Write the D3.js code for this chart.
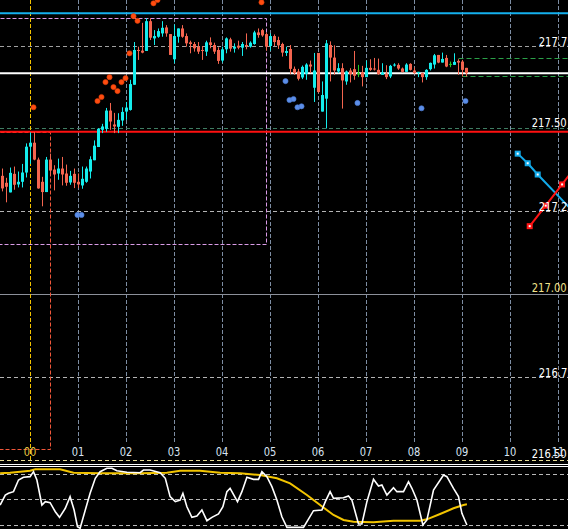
<!DOCTYPE html>
<html><head><meta charset="utf-8">
<script src="https://cdn.jsdelivr.net/npm/d3@7"></script>
<style>html,body{margin:0;padding:0;background:#000;overflow:hidden}svg{display:block}</style>
</head><body><svg id="c" width="568" height="529"></svg>
<script>
// ---- DATA ----
const candleOpen = [217.358,217.337,217.308,217.364,217.332,217.340,217.368,217.446,217.458,217.407,217.340,217.309,217.407,217.377,217.365,217.380,217.365,217.338,217.364,217.340,217.329,217.340,217.371,217.405,217.445,217.497,217.500,217.555,217.513,217.506,217.525,217.552,217.557,217.633,217.738,217.736,217.735,217.825,217.773,217.778,217.788,217.806,217.786,217.710,217.778,217.803,217.780,217.761,217.756,217.748,217.738,217.733,217.761,217.753,217.738,217.706,217.740,217.770,217.742,217.751,217.745,217.753,217.748,217.756,217.791,217.798,217.786,217.750,217.780,217.768,217.756,217.729,217.741,217.681,217.673,217.655,217.666,217.694,217.624,217.729,217.552,217.591,217.753,217.715,217.673,217.683,217.643,217.676,217.680,217.668,217.671,217.656,217.684,217.682,217.678,217.663,217.667,217.658,217.692,217.693,217.682,217.672,217.696,217.676,217.668,217.668,217.656,217.680,217.694,217.723,217.700,217.714,217.696,217.693,217.705,217.703,217.684];
const candleHigh = [217.380,217.352,217.383,217.386,217.371,217.394,217.456,217.489,217.490,217.413,217.355,217.415,217.425,217.390,217.410,217.415,217.392,217.373,217.380,217.365,217.386,217.386,217.417,217.465,217.502,217.515,217.563,217.578,217.548,217.547,217.565,217.581,217.648,217.762,217.748,217.820,217.834,217.834,217.798,217.803,217.825,217.813,217.786,217.815,217.803,217.813,217.788,217.766,217.762,217.762,217.750,217.766,217.776,217.760,217.746,217.748,217.776,217.775,217.758,217.766,217.762,217.788,217.764,217.796,217.803,217.802,217.791,217.788,217.785,217.778,217.760,217.748,217.753,217.688,217.681,217.691,217.698,217.706,217.729,217.729,217.643,217.768,217.764,217.752,217.698,217.698,217.676,217.683,217.735,217.693,217.690,217.706,217.710,217.714,217.712,217.698,217.692,217.693,217.698,217.698,217.685,217.698,217.698,217.685,217.672,217.670,217.680,217.700,217.726,217.723,217.730,217.723,217.703,217.728,217.710,217.708,217.684];
const candleLow = [217.311,217.278,217.308,217.316,217.323,217.323,217.353,217.394,217.405,217.319,217.266,217.309,217.358,217.314,217.346,217.329,217.328,217.331,217.321,217.321,217.319,217.337,217.350,217.405,217.445,217.487,217.491,217.497,217.487,217.487,217.509,217.527,217.555,217.633,217.708,217.728,217.735,217.768,217.753,217.775,217.778,217.778,217.723,217.698,217.760,217.775,217.748,217.728,217.733,217.726,217.708,217.720,217.743,217.726,217.696,217.700,217.728,217.733,217.730,217.740,217.720,217.740,217.745,217.754,217.775,217.778,217.736,217.736,217.750,217.741,217.718,217.720,217.665,217.663,217.646,217.650,217.648,217.668,217.581,217.608,217.552,217.501,217.643,217.663,217.668,217.561,217.633,217.640,217.648,217.656,217.628,217.656,217.675,217.676,217.663,217.663,217.650,217.653,217.688,217.678,217.670,217.672,217.676,217.666,217.656,217.640,217.648,217.676,217.682,217.698,217.700,217.686,217.686,217.693,217.663,217.658,217.658];
const candleClose = [217.320,217.325,217.367,217.331,217.340,217.368,217.446,217.458,217.407,217.320,217.309,217.407,217.374,217.362,217.380,217.362,217.337,217.358,217.337,217.332,217.349,217.380,217.408,217.449,217.500,217.507,217.555,217.522,217.507,217.527,217.551,217.564,217.635,217.738,217.735,217.730,217.825,217.775,217.780,217.795,217.805,217.788,217.723,217.780,217.803,217.778,217.758,217.756,217.743,217.733,217.735,217.761,217.753,217.733,217.705,217.740,217.773,217.742,217.748,217.745,217.756,217.750,217.760,217.791,217.783,217.782,217.748,217.780,217.762,217.752,217.730,217.735,217.681,217.668,217.651,217.687,217.694,217.688,217.676,217.611,217.602,217.758,217.715,217.676,217.683,217.646,217.673,217.665,217.660,217.668,217.656,217.684,217.678,217.679,217.665,217.670,217.656,217.690,217.694,217.682,217.672,217.694,217.678,217.668,217.672,217.656,217.678,217.699,217.722,217.700,217.711,217.688,217.696,217.702,217.700,217.678,217.668];

// SAR-style dots: [candle index, price]
const sarUpper = [[8,217.565],[24,217.584],[25,217.596],[26,217.641],[27,217.656],[28,217.626],[29,217.614],[30,217.641],[31,217.653],[32,217.728],[33,217.840],[34,217.826],[38,217.879],[39,217.889],[65,217.882]];
const sarLower = [[19,217.240],[20,217.240],[71,217.644],[72,217.587],[73,217.590],[74,217.565],[75,217.568],[89,217.578],[105,217.562],[116,217.584]];

// oscillator (white) and its signal (yellow)
const oscIdx = [-0.6,0.7,1.5,2.75,4,5.25,6.9,7.75,8.6,9.85,10.7,11.9,13.2,14.25,15.7,16.9,17.9,18.75,19.4,20.7,21.9,23.2,24.4,26.1,27.35,28.6,31.1,34.4,35.25,36.9,39.4,40.7,41.9,43.2,44.4,45.1,46.1,47.35,48.6,49.85,51.1,52.35,54,55.1,56.1,56.9,58.75,59.85,61.1,62.75,64,64.85,66.1,67.35,68.6,69.85,71.1,75.25,77.75,79.85,80.7,81.9,82.75,85.25,86.5,87.35,89,89.85,91.1,92.75,94,94.85,96.1,97.75,98.6,100.25,101.5,102.35,103.6,105.1,106.1,107.75,110.25,111.1,112.75,114,114.85,116.1];
const oscVal = [44.0,55.6,57.6,59.5,73.0,76.2,76.9,82.7,73.0,44.0,47.9,46.7,36.2,29.7,40.2,53.7,38.2,18.8,17.0,38.2,57.6,75.0,82.7,86.6,86.6,83.8,82.0,81.5,84.6,84.6,81.5,75.0,53.7,47.9,49.8,57.6,42.0,29.7,31.3,38.2,25.8,29.7,33.6,42.0,59.5,63.4,47.9,59.5,76.2,73.8,73.8,82.7,76.9,65.3,49.8,30.4,18.1,18.1,37.4,38.2,47.9,59.5,51.8,52.5,54.5,49.8,22.0,22.0,47.9,73.8,66.1,67.2,55.6,64.1,59.5,59.5,71.1,63.4,49.8,20.8,26.6,61.4,78.8,76.9,63.4,53.7,34.4,20.8];
const sigIdx = [-0.6,1.9,6.9,8.2,14.4,17.75,24.4,34.4,41.1,44.4,49.4,54.4,59.4,64.4,68.6,71.9,76.1,79.4,82.75,85.25,87.75,92.75,97.75,104.4,106.1,109.4,112.75,115.25,116.1];
const sigVal = [80.8,81.5,83.8,85.5,85.5,81.5,80.8,80.8,81.5,83.8,83.8,81.5,80.8,78.8,75.0,69.2,55.6,44.0,32.4,26.6,24.6,23.9,25.8,25.8,27.4,33.6,40.2,44.0,44.8];
const oscLevels = [80, 50, 20];

// projection lines in the future area: [candle index, price]
const blueProj = [[128.8,217.425],[131.3,217.396],[133.8,217.362],[143.8,217.236]];
const redProj = [[131.8,217.206],[135.8,217.268],[139.9,217.332],[143.9,217.396]];

// horizontal levels
const cyanLevel = 217.849;
const whiteLevel = 217.668;
const redLevel = 217.491;
const greenLevels = [[114,217.713],[115,217.657]];
const pinkBox = {i0:-2, i1:66, pTop:217.834, pBot:217.150};
const redBox = {i0:-2, i1:12, pTop:217.488, pBot:216.533};

const hourLabels = ["00","01","02","03","04","05","06","07","08","09","10","11"];
const hourStart = 7;
const priceTicks = [217.75,217.50,217.25,217.00,216.75,216.50];
const priceTickLabels = ["217.75","217.50","217.25","217.00","216.75","216.50"];

// ---- DRAW ----
const svg = d3.select("#c");
const W = 568, H = 529;
svg.append("rect").attr("width",W).attr("height",H).attr("fill","#000");

const x = d3.scaleLinear().domain([0,1]).range([2.5,6.5]);
const y = d3.scaleLinear().domain([217.75,216.50]).range([46,460]);
const yo = d3.scaleLinear().domain([20,80]).range([525.7,474]);
const crisp = v => Math.round(v) + 0.5;

// vertical grid
hourLabels.forEach((h,k)=>{
  const xi = crisp(x(hourStart+12*k) - 0.5);
  if (k===0) return;
  svg.append("line").attr("x1",xi).attr("x2",xi).attr("y1",0).attr("y2",444)
    .attr("stroke","#7d8da3").attr("stroke-width",1).attr("stroke-dasharray","4,2");
});

// horizontal grid
const gridStyle = {
  "217.75":{c:"#a0a0a0",d:"4,3"},
  "217.5":{c:"#3f7d62",d:"4,3"},
  "217.25":{c:"#b4b4b4",d:"4,3"},
  "217":{c:"#8c909a",d:null},
  "216.75":{c:"#b4b4b4",d:"4,3"},
  "216.5":{c:"#e6dc96",d:"4,3"}
};
priceTicks.forEach(p=>{
  const s = gridStyle[String(p)];
  const ln = svg.append("line").attr("x1",0).attr("x2",W)
    .attr("y1",crisp(y(p)-0.5)).attr("y2",crisp(y(p)-0.5))
    .attr("stroke",s.c).attr("stroke-width",1);
  if (s.d) ln.attr("stroke-dasharray",s.d);
});

// boxes
function box(b,color){
  const x0=x(b.i0), x1=crisp(x(b.i1)-0.5), yt=crisp(y(b.pTop)-0.5), yb=crisp(y(b.pBot)-0.5);
  svg.append("path").attr("d",`M${x0},${yt}H${x1}V${yb}H${x0}`)
    .attr("fill","none").attr("stroke",color).attr("stroke-width",1).attr("stroke-dasharray","4,2");
}
box(pinkBox,"#d99be6");
box(redBox,"#f0573a");

// yellow hour-00 marker
{
  const xi = crisp(x(hourStart)-0.5);
  svg.append("line").attr("x1",xi).attr("x2",xi).attr("y1",0).attr("y2",463)
    .attr("stroke","#f2c200").attr("stroke-width",1).attr("stroke-dasharray","4,2");
}

// level lines
svg.append("line").attr("x1",0).attr("x2",W).attr("y1",y(cyanLevel)).attr("y2",y(cyanLevel))
  .attr("stroke","#14b0ee").attr("stroke-width",2);
svg.append("line").attr("x1",0).attr("x2",W).attr("y1",y(whiteLevel)).attr("y2",y(whiteLevel))
  .attr("stroke","#ffffff").attr("stroke-width",2);
svg.append("line").attr("x1",0).attr("x2",W).attr("y1",y(redLevel)).attr("y2",y(redLevel))
  .attr("stroke","#ff1010").attr("stroke-width",2);
greenLevels.forEach(([i,p])=>{
  svg.append("line").attr("x1",x(i)).attr("x2",W).attr("y1",crisp(y(p)-0.5)).attr("y2",crisp(y(p)-0.5))
    .attr("stroke","#2aa048").attr("stroke-width",1).attr("stroke-dasharray","5,3");
});

// candles
const UP="#14ecec", DN="#f4654f", EQ="#22cc22";
const cg = svg.append("g");
candleOpen.forEach((o,i)=>{
  const c=candleClose[i], hi=candleHigh[i], lo=candleLow[i];
  const col = c>o?UP:(c<o?DN:EQ);
  const cx = x(i);
  cg.append("line").attr("x1",cx).attr("x2",cx).attr("y1",y(hi)).attr("y2",y(lo))
    .attr("stroke",col).attr("stroke-width",1);
  const yt=y(Math.max(o,c)), yb=y(Math.min(o,c));
  const hgt=Math.max(1,yb-yt);
  cg.append("rect").attr("x",cx-1.5).attr("width",3).attr("y",yt).attr("height",hgt).attr("fill",col);
});

// dots
sarUpper.forEach(([i,p])=>{
  svg.append("circle").attr("cx",x(i)-1).attr("cy",y(p)).attr("r",2.6)
    .attr("fill","#ff4d10").attr("stroke","#d83a08").attr("stroke-width",0.6);
});
sarLower.forEach(([i,p])=>{
  svg.append("circle").attr("cx",x(i)-1).attr("cy",y(p)).attr("r",2.6)
    .attr("fill","#5c8ee8").attr("stroke","#4a78d0").attr("stroke-width",0.6);
});

// projections
function proj(pts,color){
  const line=d3.line().x(d=>x(d[0])).y(d=>y(d[1]));
  svg.append("path").attr("d",line(pts)).attr("fill","none").attr("stroke",color).attr("stroke-width",2);
  pts.forEach(d=>{
    svg.append("rect").attr("x",x(d[0])-3).attr("y",y(d[1])-3).attr("width",6).attr("height",6).attr("fill",color);
    svg.append("rect").attr("x",x(d[0])-1).attr("y",y(d[1])-1).attr("width",2).attr("height",2).attr("fill","#fff");
  });
}
proj(blueProj,"#12aaea");
proj(redProj,"#ff1414");

// price labels
priceTicks.forEach((p,k)=>{
  const major = (k%2===1);
  svg.append("text").attr("x", major?531.7:538.7).attr("y", y(p) - (major?2:0.5))
    .attr("fill", p===217.00?"#f2e28a":"#ffffff")
    .attr("font-family","DejaVu Sans, sans-serif").attr("font-size","11.5px")
    .attr("textLength",35).attr("lengthAdjust","spacingAndGlyphs")
    .text(priceTickLabels[k]);
});

// hour labels
hourLabels.forEach((h,k)=>{
  svg.append("text").attr("x",x(hourStart+12*k)-0.5).attr("y",456).attr("text-anchor","middle")
    .attr("fill", k===0?"#e8c840":"#d8e4f2")
    .attr("font-family","DejaVu Sans, sans-serif").attr("font-size","12px")
    .attr("textLength",12.6).attr("lengthAdjust","spacingAndGlyphs")
    .text(h);
});

// separator
[464.5,466.5].forEach(v=>{
  svg.append("line").attr("x1",0).attr("x2",W).attr("y1",v).attr("y2",v).attr("stroke","#ffffff").attr("stroke-width",1);
});

// indicator pane
svg.append("clipPath").attr("id","pane").append("rect").attr("x",0).attr("y",467).attr("width",W).attr("height",H-467);
const pane = svg.append("g").attr("clip-path","url(#pane)");
oscLevels.forEach(v=>{
  pane.append("line").attr("x1",0).attr("x2",W).attr("y1",crisp(yo(v)-0.5)).attr("y2",crisp(yo(v)-0.5))
    .attr("stroke","#b8b8b8").attr("stroke-width",1).attr("stroke-dasharray","4,3");
});
const sigLine = d3.line().x((d,k)=>x(sigIdx[k])).y((d,k)=>yo(sigVal[k]));
pane.append("path").attr("d",sigLine(sigVal)).attr("fill","none").attr("stroke","#f2c400").attr("stroke-width",2);
const oscLine = d3.line().x((d,k)=>x(oscIdx[k])).y((d,k)=>yo(oscVal[k]));
pane.append("path").attr("d",oscLine(oscVal)).attr("fill","none").attr("stroke","#ffffff").attr("stroke-width",1.6);
</script>
</body></html>
